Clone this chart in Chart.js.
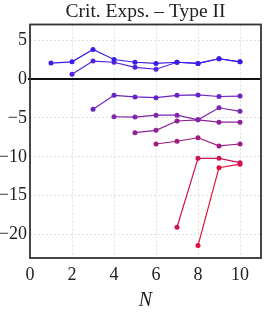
<!DOCTYPE html>
<html>
<head>
<meta charset="utf-8">
<script src="https://cdn.jsdelivr.net/npm/chart.js@4/dist/chart.umd.min.js"></script>
<style>
  html, body { margin: 0; padding: 0; background: #fff; }
  #wrap { width: 265px; height: 316px; position: relative; }
</style>
</head>
<body>
<div id="wrap"><canvas id="critChart"></canvas></div>
<script>
// N values along the x axis
const nValues = [1, 2, 3, 4, 5, 6, 7, 8, 9, 10];

// critical exponent branches (null = branch not present)
const branch1 = [2.05, 2.2, 3.8, 2.5, 2.15, 2.0, 2.15, 2.0, 2.6, 2.2];
const branch2 = [null, 0.6, 2.3, 2.15, 1.5, 1.25, 2.15, 2.0, 2.6, 2.2];
const branch3 = [null, null, -3.9, -2.1, -2.3, -2.4, -2.1, -2.05, -2.25, -2.2];
const branch4 = [null, null, null, -4.85, -4.9, -4.65, -4.65, -5.25, -3.7, -4.15];
const branch5 = [null, null, null, null, -6.9, -6.6, -5.4, -5.25, -5.55, -5.55];
const branch6 = [null, null, null, null, null, -8.35, -8.0, -7.55, -8.6, -8.35];
const branch7 = [null, null, null, null, null, null, -19.05, -10.2, -10.2, -10.75];
const branch8 = [null, null, null, null, null, null, null, -21.4, -11.4, -10.95];

const branches = [branch1, branch2, branch3, branch4, branch5, branch6, branch7, branch8];
const branchColors = ['#3a1ceb', '#5222dc', '#6a22c4', '#7e26ad', '#8e2296', '#a21c80', '#cc1458', '#e4103c'];

const xTicks = [0, 2, 4, 6, 8, 10];
const yTicks = [-20, -15, -10, -5, 0, 5];

const serif = "'Liberation Serif', 'DejaVu Serif', serif";

function toPoints(vals) {
  const pts = [];
  vals.forEach((v, i) => { if (v !== null) pts.push({ x: nValues[i], y: v }); });
  return pts;
}

// frame around the plot + thick zero line
const framePlugin = {
  id: 'frame',
  beforeDatasetsDraw(chart) {
    const { ctx, chartArea: a, scales: { y } } = chart;
    const y0 = Math.round(y.getPixelForValue(0));
    ctx.save();
    ctx.strokeStyle = '#111';
    ctx.lineWidth = 2;
    ctx.beginPath();
    ctx.moveTo(a.left - 2, y0);
    ctx.lineTo(a.right, y0);
    ctx.stroke();
    ctx.restore();
  },
  afterDraw(chart) {
    const { ctx, chartArea: a } = chart;
    ctx.save();
    ctx.strokeStyle = '#333';
    ctx.lineWidth = 1.8;
    ctx.strokeRect(a.left, a.top, a.right - a.left, a.bottom - a.top);
    ctx.restore();
  },
};

new Chart(document.getElementById('critChart'), {
  type: 'line',
  data: {
    datasets: branches.map((b, i) => ({
      data: toPoints(b),
      borderColor: branchColors[i],
      backgroundColor: branchColors[i],
      borderWidth: 1.2,
      pointRadius: 2.5,
      pointBorderWidth: 0,
      tension: 0,
    })),
  },
  options: {
    responsive: true,
    maintainAspectRatio: false,
    animation: false,
    layout: { padding: { left: 0, right: 1, top: 0, bottom: 0 } },
    plugins: {
      legend: { display: false },
      tooltip: { enabled: false },
      title: {
        display: true,
        fullSize: false,
        text: 'Crit. Exps. \u2013 Type II',
        color: '#222',
        font: { family: serif, size: 19.5, weight: 'normal', lineHeight: 1.0 },
        padding: { top: 2, bottom: 3 },
      },
    },
    scales: {
      x: {
        type: 'linear',
        min: 0,
        max: 11,
        afterFit: (s) => { s.height = 58; },
        afterBuildTicks: (s) => { s.ticks = xTicks.map((v) => ({ value: v })); },
        grid: {
          color: (c) => (c.tick && c.tick.value === 0 ? 'rgba(0,0,0,0)' : '#e0e0e0'),
          lineWidth: 1,
          drawTicks: false,
        },
        border: { display: false, dash: [2, 2] },
        ticks: {
          color: '#222',
          padding: 6,
          font: { family: serif, size: 18 },
        },
        title: {
          display: true,
          text: 'N',
          color: '#222',
          font: { family: serif, size: 20, style: 'italic' },
          padding: { top: 0, bottom: 3 },
        },
      },
      y: {
        type: 'linear',
        min: -23,
        max: 7,
        afterFit: (s) => { s.width = 30; },
        afterBuildTicks: (s) => { s.ticks = yTicks.map((v) => ({ value: v })); },
        grid: {
          color: (c) => (c.tick && c.tick.value === 0 ? 'rgba(0,0,0,0)' : '#e0e0e0'),
          lineWidth: 1,
          drawTicks: false,
        },
        border: { display: false, dash: [2, 2] },
        ticks: {
          color: '#222',
          padding: 3,
          font: { family: serif, size: 18 },
          callback: (v) => String(v).replace('-', '\u2212'),
        },
      },
    },
  },
  plugins: [framePlugin],
});
</script>
</body>
</html>
